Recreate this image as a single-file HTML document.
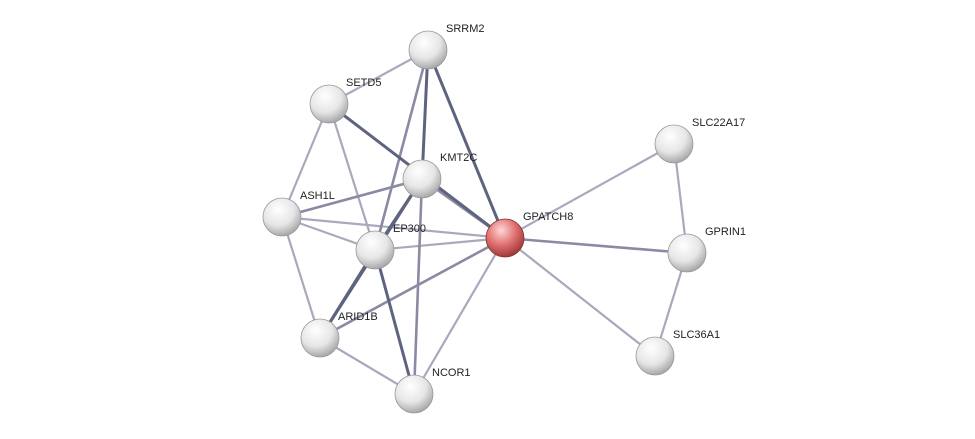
<!DOCTYPE html>
<html><head><meta charset="utf-8"><style>
html,body{margin:0;padding:0;background:#fff;}
svg{display:block;}
text{font-family:"Liberation Sans",sans-serif;font-size:11px;fill:#222;}
</style></head><body>
<svg width="975" height="439" viewBox="0 0 975 439" xmlns="http://www.w3.org/2000/svg">
<defs>
<radialGradient id="g" cx="40%" cy="30%" r="70%">
<stop offset="0" stop-color="#ffffff"/><stop offset="0.6" stop-color="#e6e6e6"/><stop offset="1" stop-color="#a9a9a9"/>
</radialGradient>
<radialGradient id="r" cx="40%" cy="30%" r="70%">
<stop offset="0" stop-color="#ffd6d6"/><stop offset="0.55" stop-color="#e07070"/><stop offset="1" stop-color="#a03a3a"/>
</radialGradient>
</defs>
<g stroke-linecap="round">
<g stroke="#a9a9bd" stroke-width="2.2">
<line x1="428" y1="50" x2="329" y2="104"/>
<line x1="329" y1="104" x2="282" y2="217"/>
<line x1="329" y1="104" x2="375" y2="250"/>
<line x1="282" y1="217" x2="375" y2="250"/>
<line x1="282" y1="217" x2="505" y2="238"/>
<line x1="282" y1="217" x2="320" y2="338"/>
<line x1="320" y1="338" x2="414" y2="394"/>
<line x1="505" y1="238" x2="414" y2="394"/>
<line x1="505" y1="238" x2="674" y2="144"/>
<line x1="505" y1="238" x2="655" y2="356"/>
<line x1="674" y1="144" x2="687" y2="253"/>
<line x1="687" y1="253" x2="655" y2="356"/>
<line x1="375" y1="250" x2="505" y2="238"/>
</g>
<g stroke="#8a8aa3" stroke-width="2.6">
<line x1="422" y1="179" x2="282" y2="217"/>
<line x1="422" y1="179" x2="414" y2="394"/>
<line x1="428" y1="50" x2="375" y2="250"/>
<line x1="505" y1="238" x2="687" y2="253"/>
<line x1="505" y1="238" x2="320" y2="338"/>
<line x1="422" y1="179" x2="505" y2="238"/>
</g>
<g stroke="#5e6480" stroke-width="3">
<line x1="428" y1="50" x2="422" y2="179"/>
<line x1="428" y1="50" x2="505" y2="238"/>
<line x1="329" y1="104" x2="505" y2="238"/>
<line x1="422" y1="179" x2="375" y2="250"/>
<line x1="422" y1="179" x2="320" y2="338"/>
<line x1="375" y1="250" x2="414" y2="394"/>
<line x1="375" y1="250" x2="320" y2="338"/>
</g>
</g>
<g stroke="#999" stroke-width="0.8">
<circle cx="428" cy="50" r="19" fill="url(#g)"/>
<circle cx="329" cy="104" r="19" fill="url(#g)"/>
<circle cx="422" cy="179" r="19" fill="url(#g)"/>
<circle cx="282" cy="217" r="19" fill="url(#g)"/>
<circle cx="375" cy="250" r="19" fill="url(#g)"/>
<circle cx="505" cy="238" r="19" fill="url(#r)" stroke="#8a3030"/>
<circle cx="320" cy="338" r="19" fill="url(#g)"/>
<circle cx="414" cy="394" r="19" fill="url(#g)"/>
<circle cx="674" cy="144" r="19" fill="url(#g)"/>
<circle cx="687" cy="253" r="19" fill="url(#g)"/>
<circle cx="655" cy="356" r="19" fill="url(#g)"/>
</g>
<text x="446" y="32">SRRM2</text>
<text x="346" y="86">SETD5</text>
<text x="440" y="161">KMT2C</text>
<text x="300" y="199">ASH1L</text>
<text x="393" y="232">EP300</text>
<text x="523" y="220">GPATCH8</text>
<text x="338" y="320">ARID1B</text>
<text x="432" y="376">NCOR1</text>
<text x="692" y="126">SLC22A17</text>
<text x="705" y="235">GPRIN1</text>
<text x="673" y="338">SLC36A1</text>
</svg>
</body></html>
